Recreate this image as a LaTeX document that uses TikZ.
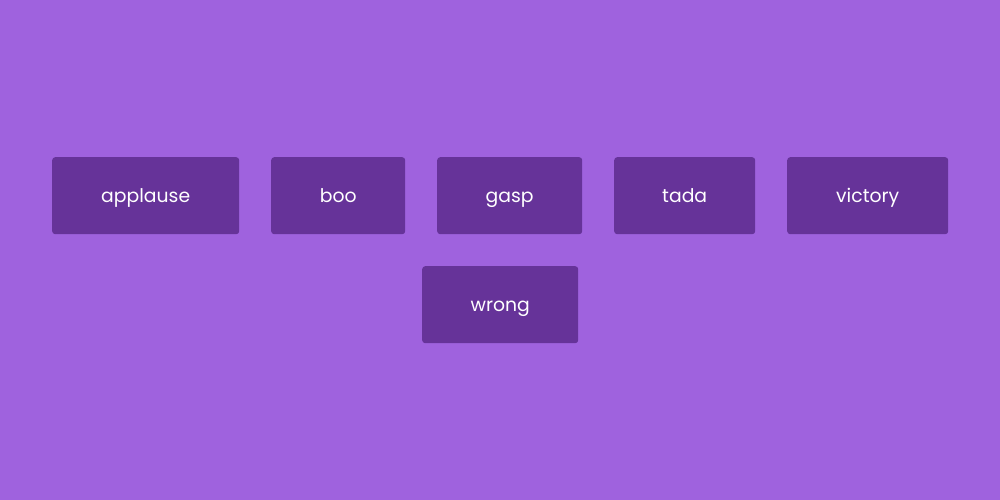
\documentclass[tikz,border=0pt]{standalone}
\usepackage{fontspec}
\setmainfont{Poppins}
\definecolor{bg}{HTML}{9F62DE}
\definecolor{btn}{HTML}{663399}
\begin{document}
\begin{tikzpicture}[x=1pt,y=-1pt,
  btnbox/.style={fill=btn,rounded corners=3pt,draw=none,text=white,
    font=\fontsize{18.8}{22}\selectfont,inner sep=0pt,anchor=north west,
    text height=14pt,text depth=0pt,minimum height=77pt}]
\fill[bg] (0,0) rectangle (1000,500);
\useasboundingbox (0,0) rectangle (1000,500);
\node[btnbox,minimum width=187pt] (applause) at (52,157) {applause};
\node[btnbox,minimum width=134pt] (boo) at (271,157) {boo};
\node[btnbox,minimum width=145pt] (gasp) at (437,157) {gasp};
\node[btnbox,minimum width=141pt] (tada) at (614,157) {tada};
\node[btnbox,minimum width=161pt] (victory) at (787,157) {victory};
\node[btnbox,minimum width=156pt] (wrong) at (422,266) {wrong};
\end{tikzpicture}
\end{document}
